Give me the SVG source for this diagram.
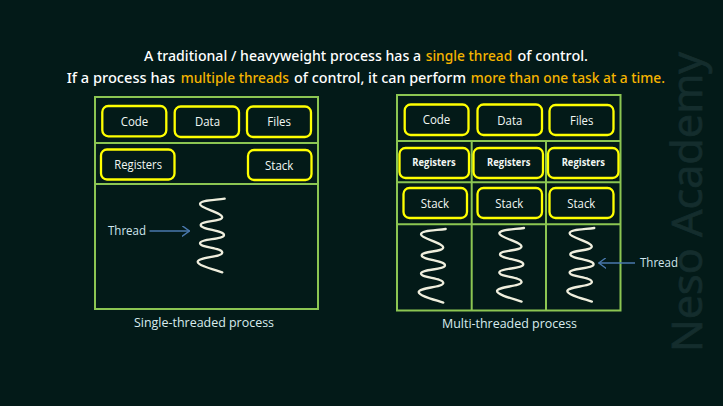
<svg xmlns="http://www.w3.org/2000/svg" xmlns:xlink="http://www.w3.org/1999/xlink" width="723" height="406" viewBox="0 0 723 406">
<style>
.frame{fill:none;stroke:#8cc652;stroke-width:2}
.box{fill:#031a18;stroke:#ffff00;stroke-width:2.3}
text{font-family:"Open Sans","Liberation Sans",sans-serif}
.lbl{fill:#f2f8f4;font-size:12.5px;text-anchor:middle}
.reg{fill:#f2f8f4;font-size:11px;font-weight:700;text-anchor:middle}
.cap{fill:#d8ecee;font-size:13px}
.thr{fill:#cfe6ee;font-size:12.5px}
.t{fill:#ffffff;font-size:15px;font-weight:500;font-family:"Noto Sans","Open Sans",sans-serif}
.o{fill:#f5b400;font-size:15px;font-weight:500;font-family:"Noto Sans","Open Sans",sans-serif}
.spring{fill:none;stroke:#efeedd;stroke-width:2.3;stroke-linecap:round}
.arrow{fill:none;stroke:#4a78ad;stroke-width:1.4}
</style>
<defs>
<path id="coil" class="spring" d="M0 0C-12 1.5 -24.7 1.5 -24.7 5.3C-24.7 10 -2.5 13.5 -2.5 18.6C-2.5 23 -24 22 -24 26.3C-24 31 -0.7 31.5 -0.7 36.3C-0.7 41 -24.7 40 -24.7 44.6C-24.7 49 -2.4 49 -2.4 54C-2.4 58.5 -27 58.5 -27 63C-27 67 -10 71 -2.4 73.6"/>
<marker id="open" viewBox="0 0 10 10" refX="9.5" refY="5" markerWidth="8" markerHeight="11" markerUnits="userSpaceOnUse" orient="auto" preserveAspectRatio="none"><path d="M0 0L9.5 5L0 10" fill="none" stroke="#4a78ad" stroke-width="1.3"/></marker>
</defs>
<rect width="723" height="406" fill="#031a18"/>
<text transform="translate(702 352) rotate(-90)" font-size="42" fill="#142d2d" stroke="#142d2d" stroke-width="0.8" textLength="300" lengthAdjust="spacingAndGlyphs">Neso Academy</text>

<g id="title">
<text class="t" x="144" y="61" textLength="277" lengthAdjust="spacingAndGlyphs">A traditional / heavyweight process has a</text>
<text class="o" x="425.7" y="61" textLength="86.6" lengthAdjust="spacingAndGlyphs">single thread</text>
<text class="t" x="517.5" y="61" textLength="70.5" lengthAdjust="spacingAndGlyphs">of control.</text>
<text class="t" x="66.7" y="83" textLength="108.3" lengthAdjust="spacingAndGlyphs">If a process has</text>
<text class="o" x="180.7" y="83" textLength="108.3" lengthAdjust="spacingAndGlyphs">multiple threads</text>
<text class="t" x="294" y="83" textLength="172" lengthAdjust="spacingAndGlyphs">of control, it can perform</text>
<text class="o" x="470.7" y="83" textLength="194.3" lengthAdjust="spacingAndGlyphs">more than one task at a time.</text>
</g>

<g id="single-frame">
<rect class="frame" x="95" y="97" width="223" height="212"/>
<path class="frame" d="M95 143H318M95 184H318"/>
</g>
<g id="s-code"><rect class="box" x="102.3" y="106" width="64" height="30.3" rx="6"/><text class="lbl" x="134.5" y="126" textLength="27.6" lengthAdjust="spacingAndGlyphs">Code</text></g>
<g id="s-data"><rect class="box" x="174.7" y="106.5" width="64.3" height="30.5" rx="6"/><text class="lbl" x="207.5" y="126" textLength="25" lengthAdjust="spacingAndGlyphs">Data</text></g>
<g id="s-files"><rect class="box" x="247" y="106.5" width="64" height="30.5" rx="6"/><text class="lbl" x="279.2" y="126" textLength="23.7" lengthAdjust="spacingAndGlyphs">Files</text></g>
<g id="s-registers"><rect class="box" x="101" y="149.5" width="73.5" height="30" rx="6"/><text class="lbl" x="138.2" y="169.3" textLength="47.7" lengthAdjust="spacingAndGlyphs">Registers</text></g>
<g id="s-stack"><rect class="box" x="248" y="150" width="63.5" height="30" rx="6"/><text class="lbl" x="279.2" y="169.5" textLength="28.3" lengthAdjust="spacingAndGlyphs">Stack</text></g>
<g id="s-thread"><use xlink:href="#coil" href="#coil" x="224.7" y="198.7"/></g>
<g id="s-thread-label"><text class="thr" x="108" y="235" textLength="38" lengthAdjust="spacingAndGlyphs">Thread</text></g>
<g id="s-caption"><text class="cap" x="134" y="327" textLength="140" lengthAdjust="spacingAndGlyphs">Single-threaded process</text></g>

<g id="multi-frame">
<rect class="frame" x="397" y="95" width="223.5" height="215.5"/>
<path class="frame" d="M397 141H620.5M397 182.3H620.5M397 224.3H620.5M471.7 141V310.5M546 141V310.5"/>
</g>
<g id="m-code"><rect class="box" x="404.7" y="104.5" width="63.8" height="30.5" rx="6"/><text class="lbl" x="436.5" y="124" textLength="27.6" lengthAdjust="spacingAndGlyphs">Code</text></g>
<g id="m-data"><rect class="box" x="477.5" y="104.5" width="64.5" height="30.5" rx="6"/><text class="lbl" x="509.8" y="124.5" textLength="25" lengthAdjust="spacingAndGlyphs">Data</text></g>
<g id="m-files"><rect class="box" x="549.5" y="105" width="64" height="30" rx="6"/><text class="lbl" x="581.7" y="124.5" textLength="23.3" lengthAdjust="spacingAndGlyphs">Files</text></g>
<g id="m-reg1"><rect class="box" x="399.5" y="148" width="69.5" height="30" rx="6"/><text class="reg" x="434" y="166" textLength="43.4" lengthAdjust="spacingAndGlyphs">Registers</text></g>
<g id="m-reg2"><rect class="box" x="473.5" y="148" width="69.5" height="30" rx="6"/><text class="reg" x="508.7" y="166" textLength="43.3" lengthAdjust="spacingAndGlyphs">Registers</text></g>
<g id="m-reg3"><rect class="box" x="548" y="148" width="70.5" height="30" rx="6"/><text class="reg" x="583.3" y="166" textLength="43.3" lengthAdjust="spacingAndGlyphs">Registers</text></g>
<g id="m-stack1"><rect class="box" x="403.5" y="188" width="63.5" height="30" rx="6"/><text class="lbl" x="434.9" y="207.7" textLength="28.3" lengthAdjust="spacingAndGlyphs">Stack</text></g>
<g id="m-stack2"><rect class="box" x="477.5" y="188" width="64.5" height="30" rx="6"/><text class="lbl" x="509.3" y="207.7" textLength="28" lengthAdjust="spacingAndGlyphs">Stack</text></g>
<g id="m-stack3"><rect class="box" x="549.5" y="188" width="64" height="30" rx="6"/><text class="lbl" x="581.3" y="207.7" textLength="28" lengthAdjust="spacingAndGlyphs">Stack</text></g>
<g id="m-thread1"><use xlink:href="#coil" href="#coil" x="445.7" y="229"/></g>
<g id="m-thread2"><use xlink:href="#coil" href="#coil" x="524" y="228"/></g>
<g id="m-thread3"><use xlink:href="#coil" href="#coil" x="594.3" y="228"/></g>
<g id="m-thread-label"><text class="thr" x="640" y="267" textLength="38" lengthAdjust="spacingAndGlyphs">Thread</text></g>
<g id="m-caption"><text class="cap" x="442" y="328" textLength="135" lengthAdjust="spacingAndGlyphs">Multi-threaded process</text></g>

<g id="connectors">
<path class="arrow" d="M149.5 231H189.5" marker-end="url(#open)"/>
<path class="arrow" d="M635 263H598.7" marker-end="url(#open)"/>
</g>
</svg>
